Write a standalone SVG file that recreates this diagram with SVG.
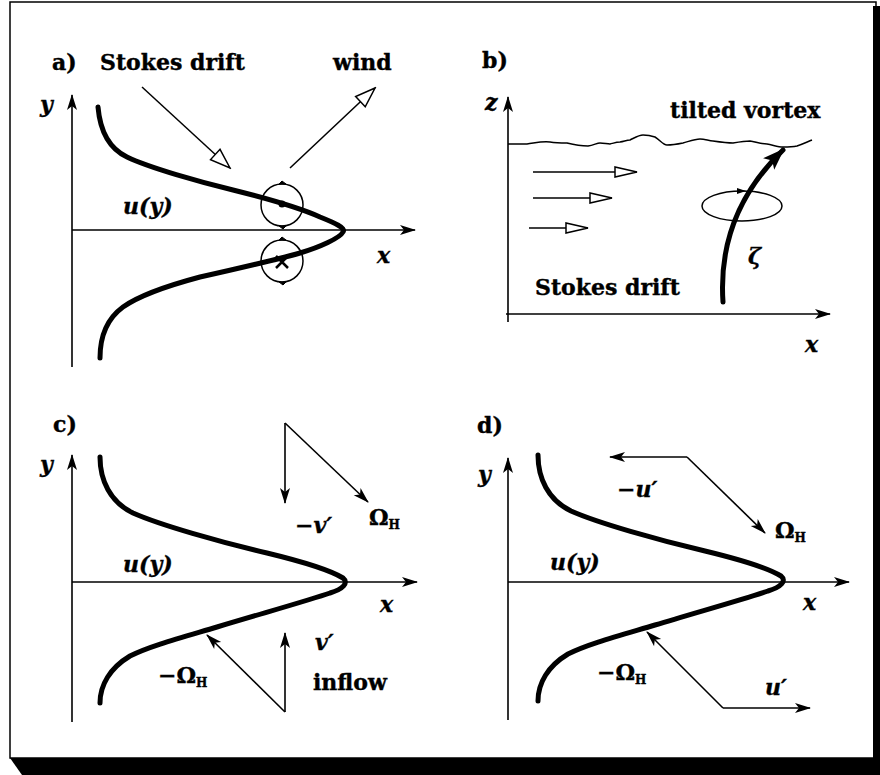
<svg xmlns="http://www.w3.org/2000/svg" width="880" height="775" viewBox="0 0 880 775">
<style>
text{font-family:"DejaVu Serif","Liberation Serif",serif;font-weight:bold;font-size:22px;fill:#000;stroke:#000;stroke-width:0.4}
.m{font-style:italic}
.sub{font-size:12px}
.ax{fill:none;stroke:#000;stroke-width:1.6;marker-end:url(#axh)}
.prof{fill:none;stroke:#000;stroke-width:5;stroke-linecap:round}
.thin{fill:none;stroke:#000;stroke-width:1.5}
.fa{fill:none;stroke:#000;stroke-width:1.6;marker-end:url(#fh)}
.oa{fill:none;stroke:#000;stroke-width:1.5;marker-end:url(#oh)}
.ob{fill:none;stroke:#000;stroke-width:1.6;marker-end:url(#obh)}
</style>
<defs>
<marker id="axh" markerUnits="userSpaceOnUse" markerWidth="18" markerHeight="12" viewBox="-16 -6 18 12" refX="0" refY="0" orient="auto">
<path d="M1,0 L-15,-5 L-11,0 L-15,5 Z" fill="#000"/>
</marker>
<marker id="fh" markerUnits="userSpaceOnUse" markerWidth="18" markerHeight="12" viewBox="-16 -6 18 12" refX="0" refY="0" orient="auto">
<path d="M1,0 L-15,-5 L-11,0 L-15,5 Z" fill="#000"/>
</marker>
<marker id="oh" markerUnits="userSpaceOnUse" markerWidth="26" markerHeight="20" viewBox="-24 -10 26 20" refX="0" refY="0" orient="auto">
<path d="M0,0 L-20,-7 L-20,7 Z" fill="#fff" stroke="#000" stroke-width="1.5"/>
</marker>
<marker id="obh" markerUnits="userSpaceOnUse" markerWidth="28" markerHeight="14" viewBox="-26 -7 28 14" refX="0" refY="0" orient="auto">
<path d="M0,0 L-22,-5 L-22,5 Z" fill="#fff" stroke="#000" stroke-width="1.5"/>
</marker>
<marker id="th" markerUnits="userSpaceOnUse" markerWidth="26" markerHeight="20" viewBox="-24 -10 26 20" refX="0" refY="0" orient="auto">
<path d="M2,0 L-20,-8 L-15,0 L-20,8 Z" fill="#000"/>
</marker>
</defs>

<g id="frame">
<rect x="10" y="2" width="866" height="756" fill="#fff" stroke="#000" stroke-width="1.5"/>
<rect x="873" y="6" width="7" height="769" fill="#000"/>
<polygon points="10,758 880,758 880,775 22,775" fill="#000"/>
</g>

<g id="panel-a">
<text x="52" y="70">a)</text>
<text x="100" y="70">Stokes drift</text>
<text x="333" y="70">wind</text>
<text class="m" x="40" y="112">y</text>
<text class="m" x="377" y="263">x</text>
<text class="m" x="123" y="214">u(y)</text>
<path class="prof" d="M98,107 C100,130 108,148 127,157 C150,168 200,182 233,190 C265,198 300,208 320,217 C335,223 346,228 343,232 C340,238 320,247 300,253 C275,260 240,268 200,277 C170,285 140,295 123,307 C108,318 100,335 100,358"/>
<g id="vortex-up">
<circle class="thin" cx="282" cy="205" r="21"/>
<circle cx="282" cy="204" r="3.5" fill="#000"/>
<path d="M279,184 L286,184 L282,181 Z M286,226 L279,226 L283,229 Z" fill="#000" stroke="#000" stroke-width="1"/>
</g>
<g id="vortex-down">
<circle class="thin" cx="282" cy="261" r="21"/>
<path d="M276,256 L288,268 M288,256 L276,268" stroke="#000" stroke-width="2.5"/>
<path d="M279,240 L286,240 L282,237 Z M286,282 L279,282 L283,285 Z" fill="#000" stroke="#000" stroke-width="1"/>
</g>
</g>

<g id="panel-b">
<text x="482" y="68">b)</text>
<text class="m" x="485" y="110">z</text>
<text x="670" y="118">tilted vortex</text>
<text x="535" y="295">Stokes drift</text>
<text class="m" x="805" y="352">x</text>
<text class="m" x="748" y="264">ζ</text>
<path class="thin" d="M508,144 L527,144 C535,143 542,141 550,142 C556,143 561,143 567,143 C575,145 582,146 588,146 C594,145 597,143 600,143 C604,143 607,144 610,144 C614,143 617,142 620,142 C625,141 627,140 630,140 C636,137 639,135 643,135 C649,135 652,136 655,137 C660,140 663,145 667,145 C673,145 678,144 683,143 C690,141 695,139 700,139 C705,139 709,141 713,141 C720,142 727,143 733,143 C739,142 745,141 750,141 C756,142 761,144 767,144 C773,145 778,147 783,147 C788,147 792,147 797,146 C803,144 807,142 812,140"/>
<ellipse class="thin" cx="742" cy="206" rx="40" ry="15"/>
<path d="M737,188 L746,191 L737,194 Z" fill="#000"/>
<path d="M723,302 Q717,214 783,150" fill="none" stroke="#000" stroke-width="5" stroke-linecap="round" marker-end="url(#th)"/>
</g>

<g id="panel-c">
<text x="53" y="432">c)</text>
<text class="m" x="40" y="472">y</text>
<text class="m" x="380" y="612">x</text>
<text class="m" x="123" y="572">u(y)</text>
<text class="m" x="295" y="533">−v′</text>
<text x="369" y="525">Ω<tspan class="sub" dy="4">H</tspan></text>
<text class="m" x="315" y="650">v′</text>
<text x="313" y="690">inflow</text>
<text x="158" y="683">−Ω<tspan class="sub" dy="4">H</tspan></text>
<path class="prof" d="M100,457 C100,480 110,502 133,513 C160,525 220,542 267,553 C300,561 330,570 343,578 C349,583 343,589 330,593 C310,600 260,614 217,627 C180,638 150,646 130,656 C110,668 100,685 100,703"/>
</g>

<g id="panel-d">
<text x="477" y="433">d)</text>
<text class="m" x="478" y="482">y</text>
<text class="m" x="803" y="610">x</text>
<text class="m" x="550" y="570">u(y)</text>
<text class="m" x="617" y="497">−u′</text>
<text x="775" y="538">Ω<tspan class="sub" dy="4">H</tspan></text>
<text x="597" y="680">−Ω<tspan class="sub" dy="4">H</tspan></text>
<text class="m" x="765" y="695">u′</text>
<path class="prof" transform="translate(438,-2)" d="M100,457 C100,480 110,502 133,513 C160,525 220,542 267,553 C300,561 330,570 343,578 C349,583 343,589 330,593 C310,600 260,614 217,627 C180,638 150,646 130,656 C110,668 100,685 100,703"/>
</g>

<g id="connectors">
<path class="ax" d="M72,367 L72,95"/>
<path class="ax" d="M72,230 L415,230"/>
<path class="oa" d="M142,87 L230,168"/>
<path class="oa" d="M290,168 L375,88"/>

<path class="ax" d="M508,322 L508,97"/>
<path class="ax" d="M506,314 L830,314"/>
<path class="ob" d="M533,172 L637,172"/>
<path class="ob" d="M533,198 L612,198"/>
<path class="ob" d="M529,228 L588,228"/>

<path class="ax" d="M72,722 L72,455"/>
<path class="ax" d="M72,582 L417,582"/>
<path class="fa" d="M285,423 L285,503"/>
<path class="fa" d="M285,423 L368,502"/>
<path class="fa" d="M285,712 L285,633"/>
<path class="fa" d="M285,712 L207,635"/>

<path class="ax" d="M508,720 L508,458"/>
<path class="ax" d="M508,582 L849,582"/>
<path class="fa" d="M687,457 L610,457"/>
<path class="fa" d="M687,457 L765,533"/>
<path class="fa" d="M723,708 L647,632"/>
<path class="fa" d="M723,708 L810,708"/>
</g>
</svg>
